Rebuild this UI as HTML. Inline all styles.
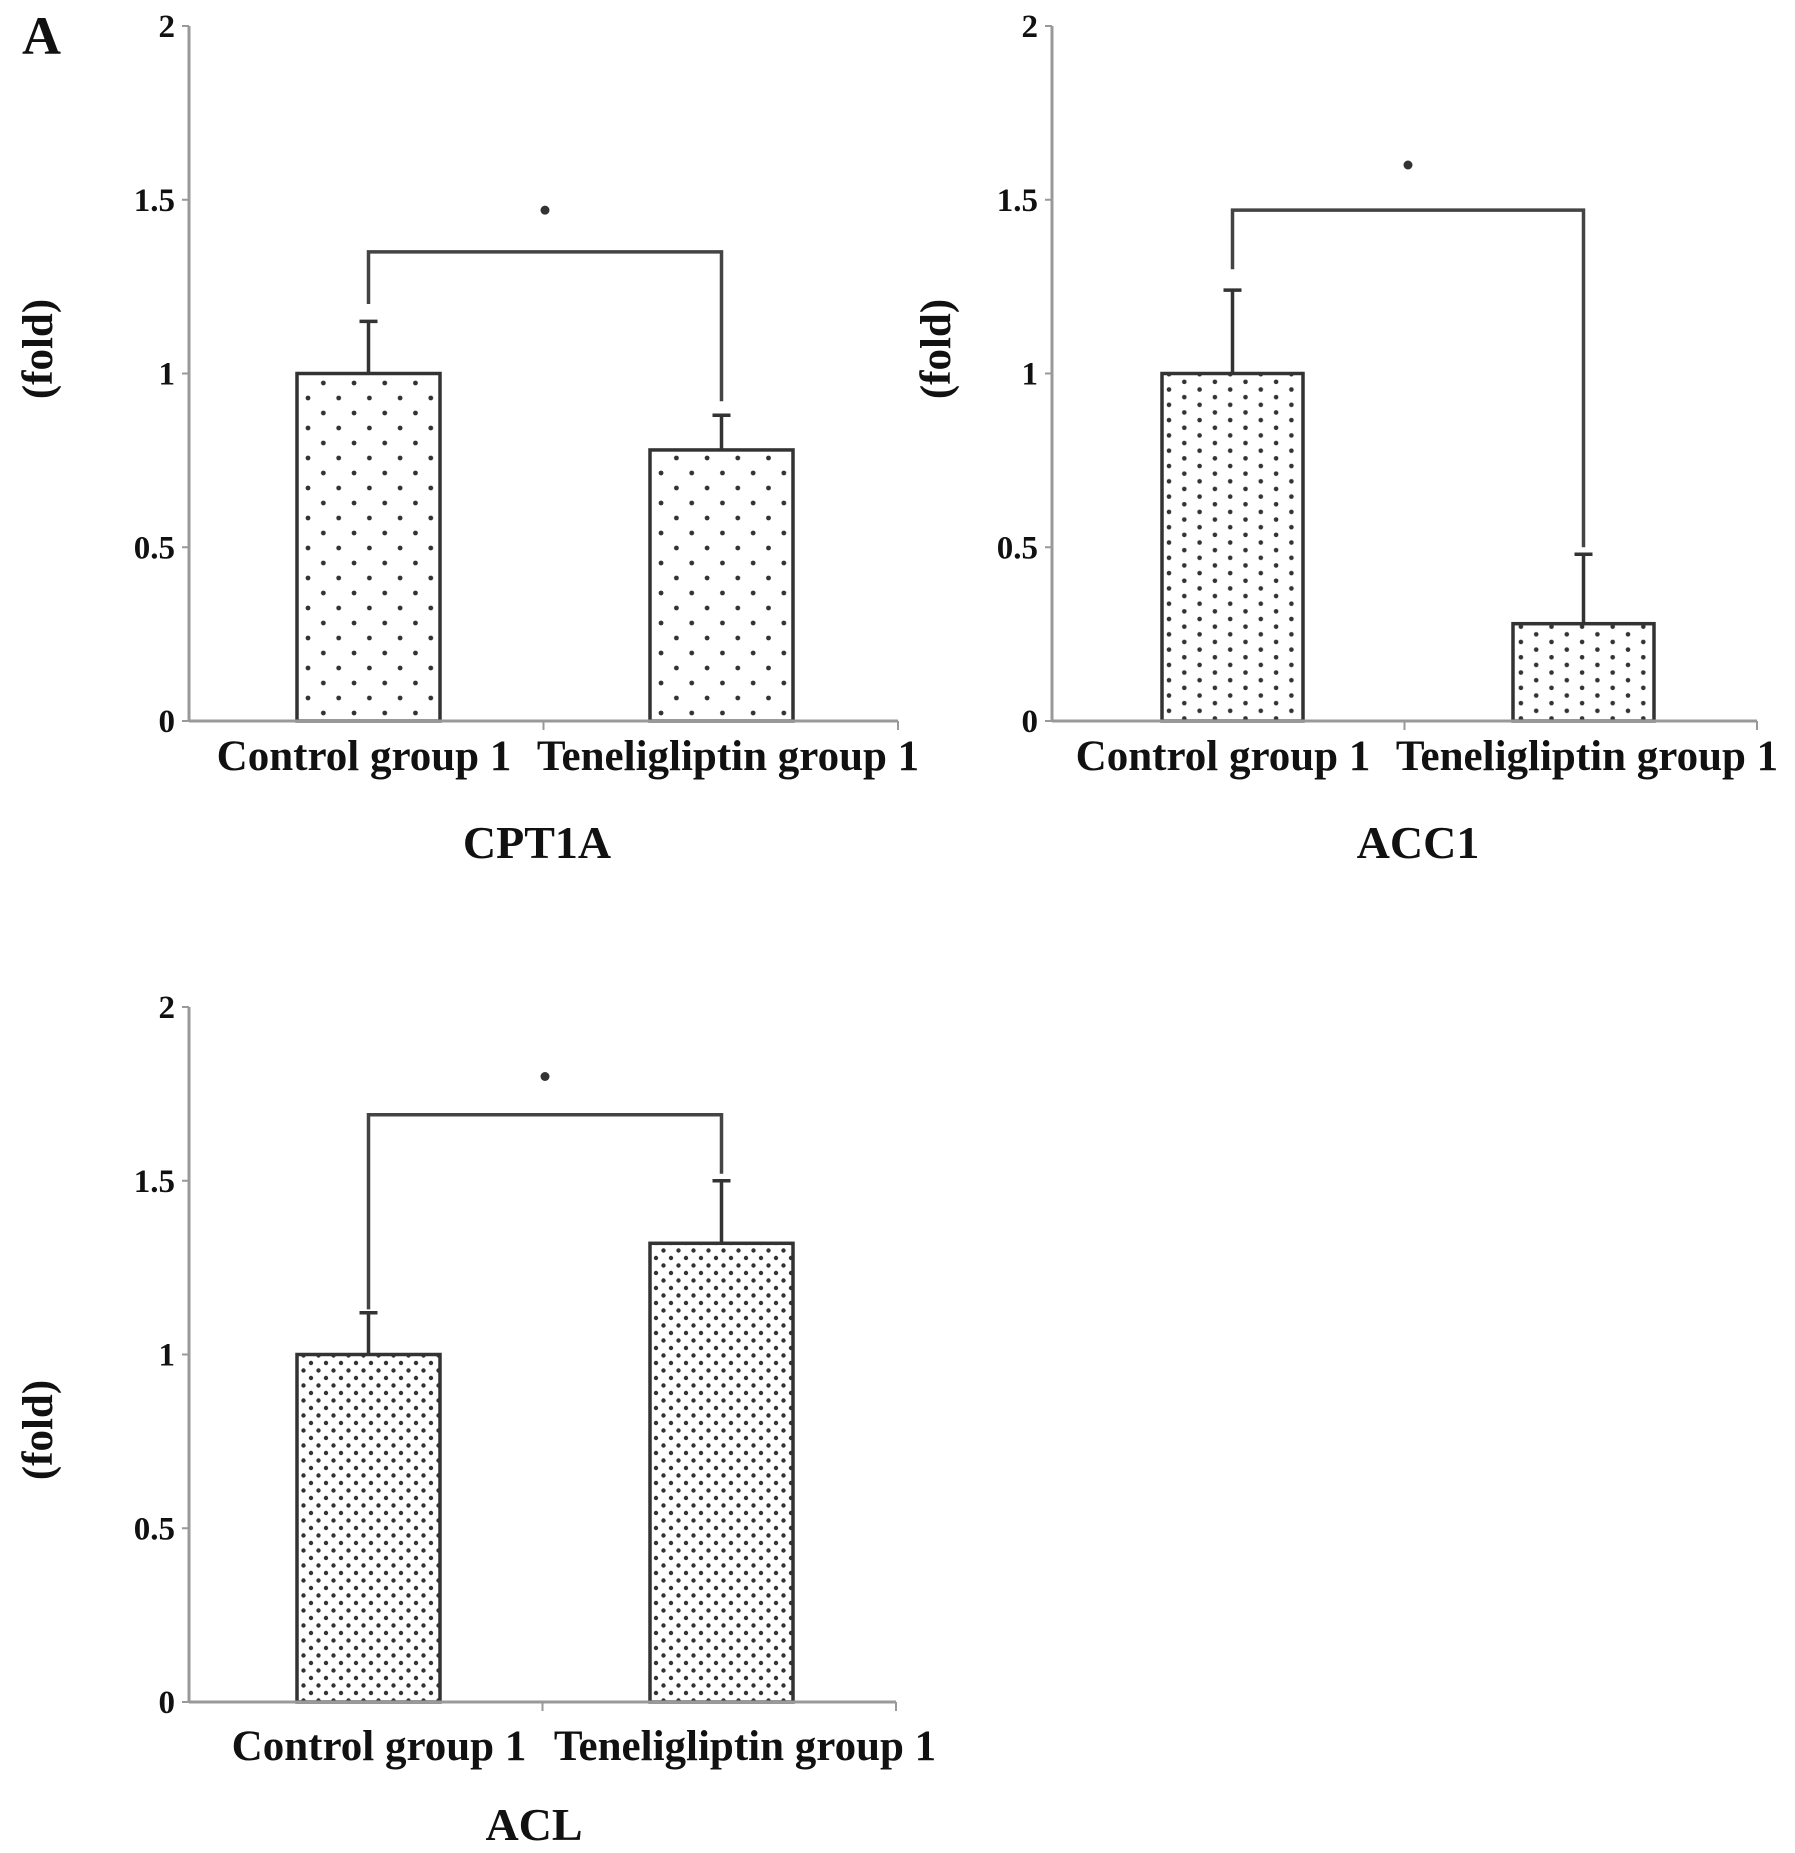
<!DOCTYPE html>
<html><head><meta charset="utf-8"><style>
html,body{margin:0;padding:0;background:#fff;}
svg{display:block;}
text{font-family:"Liberation Serif",serif;font-weight:bold;fill:#111;}
</style></head><body>
<svg id="fig" width="1795" height="1853" viewBox="0 0 1795 1853">
<defs>
<pattern id="dots1" width="30.7" height="30" patternUnits="userSpaceOnUse" x="304" y="4"><rect width="30.7" height="30" fill="#fff"/><circle cx="4" cy="4" r="2.4" fill="#333"/><circle cx="19.35" cy="19" r="2.4" fill="#333"/></pattern>
<pattern id="dots2" width="30.6" height="15.3" patternUnits="userSpaceOnUse" x="1165" y="3"><rect width="30.6" height="15.3" fill="#fff"/><circle cx="4" cy="4" r="2.3" fill="#333"/><circle cx="19.3" cy="11.65" r="2.3" fill="#333"/></pattern>
<pattern id="dots3" width="15" height="15" patternUnits="userSpaceOnUse" x="300" y="2"><rect width="15" height="15" fill="#fff"/><circle cx="3.5" cy="3.5" r="2.2" fill="#333"/><circle cx="11" cy="11" r="2.2" fill="#333"/></pattern>
</defs>
<text x="22" y="54" font-size="54">A</text>
</svg>
<script>
const categories = ["Control group 1", "Teneligliptin group 1"];
const titles = ["CPT1A", "ACC1", "ACL"];
const cpt1aValues = [1.0, 0.78];
const cpt1aErrors = [1.15, 0.88];
const acc1Values = [1.0, 0.28];
const acc1Errors = [1.24, 0.48];
const aclValues = [1.0, 1.32];
const aclErrors = [1.12, 1.50];
const yTicks = [0, 0.5, 1, 1.5, 2];
const yTickLabels = ["0", "0.5", "1", "1.5", "2"];
const brackets = [[1.35, 1.20, 0.92], [1.47, 1.30, 0.50], [1.69, 1.13, 1.52]];
const starValues = [1.47, 1.60, 1.80];

const NS = "http://www.w3.org/2000/svg";
const svg = document.getElementById("fig");
function mk(tag, attrs, parent, text) {
  const e = document.createElementNS(NS, tag);
  for (const k in attrs) e.setAttribute(k, attrs[k]);
  if (text !== undefined) e.textContent = text;
  (parent || svg).appendChild(e);
  return e;
}
const panels = [
  {x0:189, x1:898, y0:721, y2:26, bars:[297,650], bw:143, vals:cpt1aValues, errs:cpt1aErrors, pat:"dots1", labX:[364,728], labY:770, titleX:537, titleY:858, foldX:38, foldY:349},
  {x0:1052, x1:1757, y0:721, y2:26, bars:[1162,1513], bw:141, vals:acc1Values, errs:acc1Errors, pat:"dots2", labX:[1223,1587], labY:770, titleX:1418, titleY:858, foldX:936, foldY:349},
  {x0:189, x1:896, y0:1702, y2:1007, bars:[297,650], bw:143, vals:aclValues, errs:aclErrors, pat:"dots3", labX:[379,745], labY:1760, titleX:534, titleY:1840, foldX:38, foldY:1430}
];
panels.forEach((p, i) => {
  const g = mk("g", {});
  
  
  const Y = v => p.y0 - (p.y0 - p.y2) * v / 2;
  const ya = mk("line", {x1:p.x0, y1:p.y2, x2:p.x0, y2:p.y0, stroke:"#999", "stroke-width":3}, g);
  
  
  yTicks.forEach((t, k) => {
    mk("line", {x1:p.x0-7, y1:Y(t), x2:p.x0, y2:Y(t), stroke:"#999", "stroke-width":2}, g);
    const tl = mk("text", {x:p.x0-14, y:Y(t)+11, "font-size":33, "text-anchor":"end"}, g, yTickLabels[k]);
    
    
  });
  const yl = mk("text", {x:0, y:0, "font-size":43, "text-anchor":"middle", transform:`translate(${p.foldX + 14},${p.foldY}) rotate(-90)`}, g, "(fold)");
  
  
  p.vals.forEach((v, k) => {
    const b = mk("rect", {x:p.bars[k], y:Y(v), width:p.bw, height:p.y0 - Y(v), fill:`url(#${p.pat})`, stroke:"#333", "stroke-width":3.5}, g);
    
    
    const cx = p.bars[k] + p.bw / 2;
    const e = mk("path", {d:`M${cx},${Y(v)}V${Y(p.errs[k])}M${cx-9},${Y(p.errs[k])}H${cx+9}`, stroke:"#333", "stroke-width":3.5, fill:"none"}, g);
    
    
    const cl = mk("text", {x:p.labX[k], y:p.labY, "font-size":43, "text-anchor":"middle"}, g, categories[k]);
    
    
  });
  const xa = mk("line", {x1:p.x0, y1:p.y0, x2:p.x1, y2:p.y0, stroke:"#999", "stroke-width":3}, g);
  
  
  const xm = (p.x0 + p.x1) / 2;
  [xm, p.x1].forEach(x => mk("line", {x1:x, y1:p.y0, x2:x, y2:p.y0+9, stroke:"#999", "stroke-width":2}, g));
  const c0 = p.bars[0] + p.bw / 2, c1 = p.bars[1] + p.bw / 2, br = brackets[i];
  const bp = mk("path", {d:`M${c0},${Y(br[1])}V${Y(br[0])}H${c1}V${Y(br[2])}`, stroke:"#444", "stroke-width":3.5, fill:"none"}, g);
  
  
  const st = mk("circle", {cx:(c0 + c1) / 2, cy:Y(starValues[i]), r:4.5, fill:"#333"}, g);
  
  
  const tt = mk("text", {x:p.titleX, y:p.titleY, "font-size":46, "text-anchor":"middle"}, g, titles[i]);
  
  
});
</script>
</body></html>
